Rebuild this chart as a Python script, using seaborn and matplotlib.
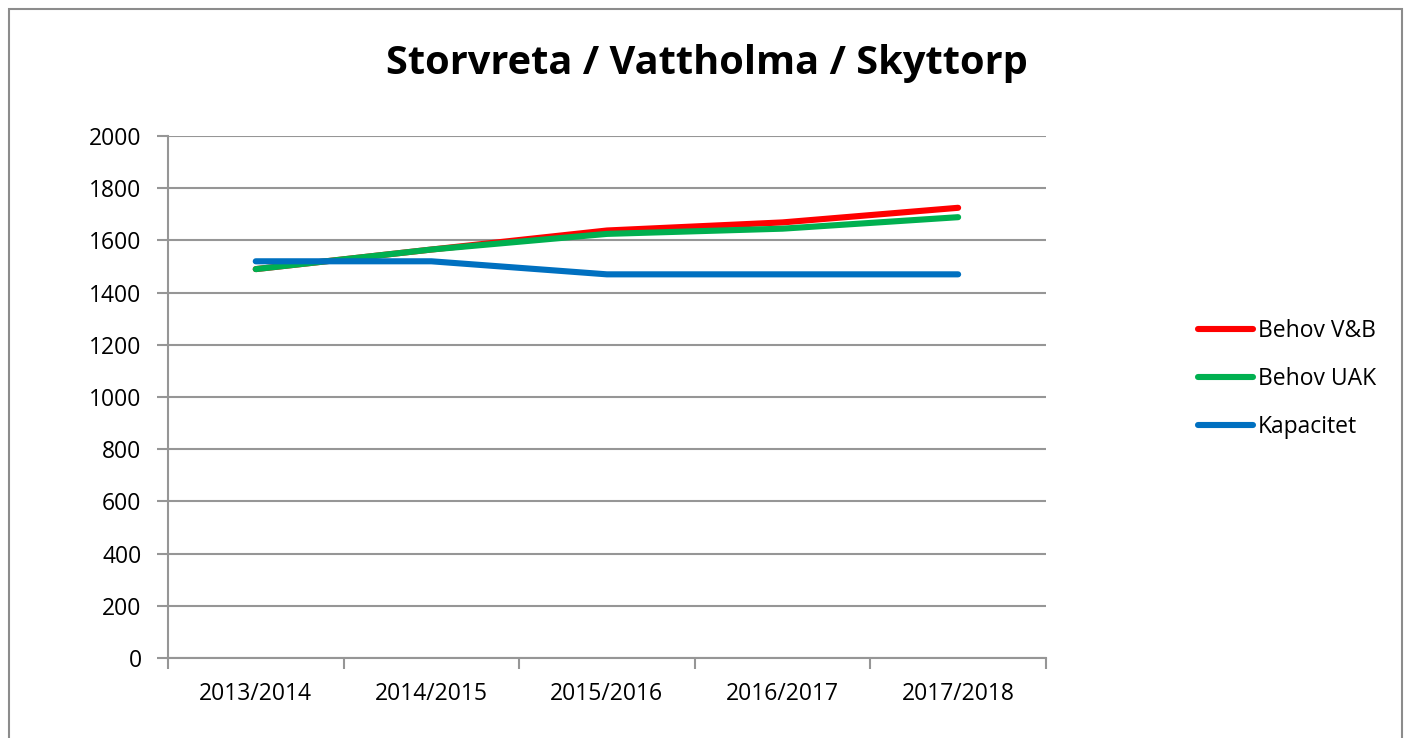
import pandas as pd
import seaborn as sns
import matplotlib.pyplot as plt
from matplotlib.patches import Rectangle

YEARS = ["2013/2014", "2014/2015", "2015/2016", "2016/2017", "2017/2018"]
BEHOV_VB = [1490, 1565, 1638, 1669, 1725]
BEHOV_UAK = [1490, 1565, 1625, 1645, 1689]
KAPACITET = [1520, 1520, 1470, 1470, 1470]
SERIES = ["Behov V&B", "Behov UAK", "Kapacitet"]
COLORS = ["#FF0000", "#00B050", "#0070C0"]

df = pd.DataFrame({
    "År": YEARS * 3,
    "Antal": BEHOV_VB + BEHOV_UAK + KAPACITET,
    "Serie": [s for s in SERIES for _ in YEARS],
})
df["x"] = df["År"].map({y: i for i, y in enumerate(YEARS)})

sns.set_style("white")
plt.rcParams["font.family"] = ["Open Sans", "DejaVu Sans"]
plt.rcParams["text.color"] = "black"
plt.rcParams["xtick.color"] = "black"
plt.rcParams["ytick.color"] = "black"

fig = plt.figure(figsize=(14.1, 7.38), dpi=100)
ax = fig.add_axes([0.1191, 0.1084, 0.6227, 0.7073])

lw = 4.4
sns.lineplot(data=df, x="x", y="Antal", hue="Serie", hue_order=SERIES,
             palette=COLORS, linewidth=lw, ax=ax, legend=False,
             solid_capstyle="round")

grid_c = "#969696"
ax.set_ylim(0, 2000)
ax.set_yticks(range(0, 2001, 200))
ax.set_xlim(-0.5, len(YEARS) - 0.5)
ax.set_xticks([i - 0.5 for i in range(len(YEARS) + 1)])
ax.set_xticklabels([])
ax.set_xticks(range(len(YEARS)), minor=True)
ax.set_xticklabels(YEARS, minor=True)
ax.tick_params(axis="x", which="minor", bottom=True, length=0, pad=17,
               labelsize=16.5, labelcolor="black")
ax.tick_params(axis="x", which="major", bottom=True, length=8, color=grid_c, width=1.5)
ax.tick_params(axis="y", left=True, length=8, color=grid_c, width=1.5,
               labelsize=16.5, labelcolor="black", pad=11)
ax.yaxis.grid(True, color=grid_c, linewidth=1.5)
ax.set_axisbelow(True)
for s in ["top", "right"]:
    ax.spines[s].set_visible(False)
for s in ["left", "bottom"]:
    ax.spines[s].set_color(grid_c)
    ax.spines[s].set_linewidth(1.5)
ax.set_xlabel("")
ax.set_ylabel("")

handles = [plt.Line2D([], [], color=c, linewidth=lw, solid_capstyle="round") for c in COLORS]
fig.legend(handles, SERIES, loc="center left", bbox_to_anchor=(0.835, 0.486),
           frameon=False, fontsize=16.5, handlelength=2.4, handletextpad=0.2,
           labelspacing=1.05, labelcolor="black")

fig.suptitle("Storvreta / Vattholma / Skyttorp", x=0.501, y=0.94,
             fontsize=28.6, fontweight="bold", color="black")

fig.patches.append(Rectangle((9 / 1410, -0.01), 1393 / 1410, 1 - 9 / 738 + 0.01,
                             transform=fig.transFigure, fill=False,
                             edgecolor="#8c8c8c", linewidth=1.5))

fig.savefig("out.png", dpi=100)
